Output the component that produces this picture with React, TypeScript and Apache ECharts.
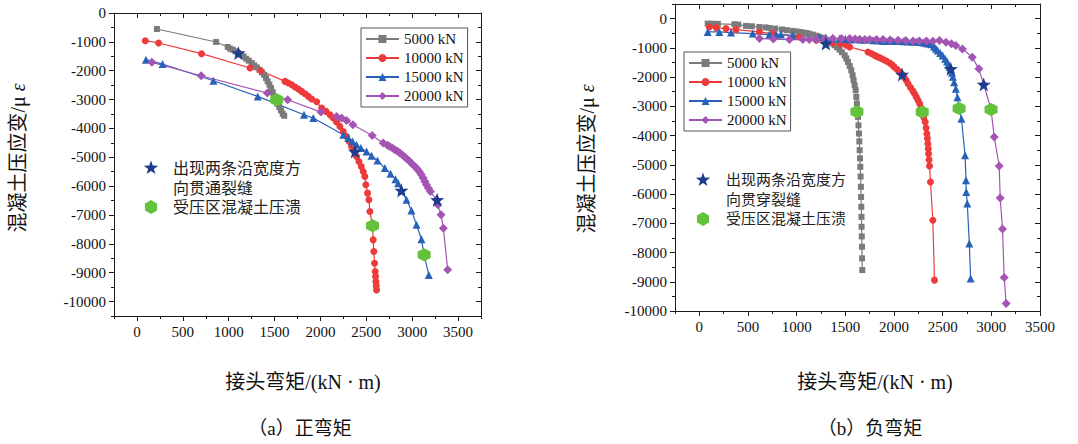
import React, { useEffect, useRef } from 'react';
import * as echarts from 'echarts';

// ---------- tick values ----------
const X_MAJOR = [0, 500, 1000, 1500, 2000, 2500, 3000, 3500];
const Y_MAJOR = [0, -1000, -2000, -3000, -4000, -5000, -6000, -7000, -8000, -9000, -10000];
const LOADS = ['5000 kN', '10000 kN', '15000 kN', '20000 kN'];

// ---------- (a) positive moment ----------
const a5000 = [[218,-555],[863,-1006],[990,-1179],[1016,-1237],[1045,-1272],[1074,-1329],[1103,-1387],[1132,-1445],[1161,-1503],[1190,-1584],[1219,-1653],[1251,-1734],[1277,-1815],[1306,-1884],[1335,-1965],[1364,-2058],[1386,-2139],[1407,-2254],[1425,-2370],[1444,-2485],[1462,-2601],[1480,-2751],[1494,-2890],[1512,-3029],[1531,-3144],[1552,-3260],[1570,-3376],[1589,-3491],[1605,-3560]];
const a10000 = [[91,-959],[236,-1040],[704,-1410],[1233,-1907],[1349,-2000],[1614,-2370],[1650,-2428],[1687,-2485],[1723,-2566],[1759,-2636],[1795,-2717],[1832,-2798],[1868,-2890],[1904,-2982],[1959,-3075],[2013,-3295],[2060,-3410],[2104,-3526],[2140,-3641],[2176,-3780],[2212,-3930],[2249,-4104],[2285,-4277],[2314,-4451],[2339,-4624],[2368,-4797],[2394,-4971],[2419,-5144],[2445,-5318],[2466,-5491],[2484,-5664],[2495,-5953],[2513,-6242],[2528,-6474],[2539,-6878],[2568,-7375],[2575,-7861],[2582,-8265],[2590,-8670],[2597,-8959],[2601,-9132],[2604,-9306],[2608,-9456],[2612,-9595]];
const a15000 = [[98,-1618],[279,-1769],[834,-2347],[1317,-2890],[1821,-3526],[1922,-3641],[2249,-4219],[2303,-4335],[2350,-4451],[2394,-4566],[2441,-4682],[2503,-4797],[2557,-4948],[2622,-5110],[2702,-5375],[2764,-5572],[2818,-5757],[2847,-5896],[2883,-6150],[2938,-6474],[2992,-6844],[3047,-7341],[3101,-7838],[3130,-8381],[3181,-9075]];
const a20000 = [[163,-1711],[700,-2173],[1422,-2774],[1643,-3006],[2006,-3433],[2176,-3584],[2231,-3641],[2285,-3722],[2354,-3873],[2564,-4243],[2684,-4509],[2730,-4580],[2756,-4624],[2785,-4680],[2811,-4740],[2840,-4795],[2865,-4855],[2893,-4920],[2920,-4994],[2947,-5065],[2974,-5144],[3000,-5230],[3029,-5318],[3053,-5400],[3076,-5491],[3098,-5600],[3119,-5722],[3138,-5840],[3155,-5953],[3178,-6070],[3199,-6185],[3265,-6474],[3279,-6647],[3315,-6994],[3340,-7456],[3387,-8901]];
const aStars = [[1106,-1387],[2376,-4797],[2883,-6150],[3272,-6474]];
const aCrush = [[1523,-3006],[2568,-7375],[3130,-8381]];

// ---------- (b) negative moment ----------
const b5000 = [[86,-171],[137,-175],[190,-180],[360,-194],[400,-205],[480,-250],[540,-262],[617,-285],[680,-300],[720,-319],[780,-340],[850,-370],[900,-395],[960,-421],[1000,-440],[1029,-456],[1060,-470],[1098,-490],[1130,-515],[1166,-547],[1200,-585],[1235,-626],[1260,-665],[1287,-706],[1310,-750],[1338,-797],[1365,-850],[1390,-911],[1415,-980],[1441,-1059],[1465,-1150],[1493,-1253],[1510,-1360],[1527,-1481],[1545,-1620],[1561,-1765],[1575,-1940],[1585,-2107],[1596,-2280],[1606,-2449],[1613,-2680],[1619,-2904],[1625,-3130],[1630,-3360],[1635,-3650],[1640,-3930],[1644,-4200],[1647,-4499],[1651,-4780],[1654,-5069],[1657,-5400],[1660,-5752],[1662,-6100],[1664,-6435],[1666,-6780],[1667,-7119],[1669,-7450],[1671,-7802],[1672,-8200],[1674,-8600]];
const b10000 = [[103,-285],[172,-308],[274,-342],[377,-376],[617,-456],[755,-513],[1029,-626],[1201,-740],[1300,-790],[1372,-831],[1450,-870],[1510,-911],[1544,-968],[1733,-1139],[1767,-1196],[1800,-1250],[1818,-1287],[1845,-1325],[1870,-1367],[1895,-1405],[1921,-1447],[1956,-1515],[1980,-1580],[2000,-1650],[2030,-1730],[2058,-1820],[2084,-1912],[2105,-2010],[2125,-2110],[2145,-2230],[2170,-2360],[2195,-2480],[2213,-2580],[2230,-2686],[2248,-2800],[2264,-2913],[2278,-3050],[2290,-3198],[2305,-3370],[2321,-3539],[2330,-3740],[2338,-3937],[2343,-4100],[2348,-4279],[2352,-4450],[2355,-4620],[2360,-4830],[2365,-5041],[2375,-5588],[2399,-6896],[2416,-8945]];
const b15000 = [[86,-456],[206,-456],[326,-478],[549,-513],[720,-547],[789,-547],[840,-547],[960,-570],[1235,-626],[1300,-650],[1370,-670],[1441,-683],[1500,-700],[1560,-710],[1647,-718],[1700,-725],[1784,-740],[1840,-750],[1887,-763],[1940,-763],[1990,-763],[2040,-768],[2093,-774],[2140,-780],[2196,-790],[2230,-795],[2264,-800],[2300,-820],[2333,-840],[2360,-855],[2382,-880],[2410,-950],[2430,-1020],[2449,-1092],[2475,-1180],[2500,-1263],[2525,-1370],[2545,-1470],[2560,-1570],[2572,-1650],[2584,-1718],[2595,-1850],[2605,-1990],[2618,-2174],[2635,-2401],[2652,-2686],[2669,-3075],[2693,-3425],[2730,-4677],[2740,-5531],[2742,-5929],[2753,-6327],[2774,-7693],[2787,-8888]];
const b20000 = [[617,-683],[760,-700],[926,-718],[1063,-718],[1130,-712],[1201,-706],[1290,-695],[1372,-683],[1460,-683],[1544,-683],[1600,-695],[1647,-706],[1700,-712],[1750,-718],[1820,-718],[1887,-718],[1960,-728],[2041,-740],[2120,-750],[2196,-763],[2260,-763],[2333,-763],[2400,-770],[2466,-751],[2534,-808],[2590,-860],[2635,-922],[2703,-1036],[2804,-1320],[2872,-1718],[2922,-2253],[2997,-3107],[3030,-4051],[3081,-5041],[3091,-6134],[3115,-7192],[3132,-8854],[3152,-9741]];
const bStars = [[1300,-854],[2084,-1912],[2584,-1718],[2922,-2253]];
const bCrush = [[1619,-3189],[2290,-3198],[2669,-3075],[2997,-3107]];

// ---------- style ----------
const SERIF = 'Liberation Serif, serif';
const CJK = 'Liberation Serif, Noto Sans CJK SC, serif';
const C_GRAY = '#7b7b7b';
const C_RED = '#ee3a3a';
const C_BLUE = '#2862b8';
const C_PURPLE = '#a455b4';
const C_STAR = '#1d3b8f';
const C_GREEN = '#63c23c';
const AX = '#1a1a1a';

const STAR_PATH = 'path://M0,-10L2.35,-3.24L9.51,-3.09L3.8,1.24L5.88,8.09L0,4L-5.88,8.09L-3.8,1.24L-9.51,-3.09L-2.35,-3.24Z';
const HEX_PATH = 'path://M8.66,0L17.32,5L17.32,15L8.66,20L0,15L0,5Z';

function axisSet(dim: 'x' | 'y', gridIndex: number, min: number, max: number, step: number, majors: number[]) {
  const common: any = {
    type: 'value', gridIndex, min, max, interval: step,
    splitLine: { show: false },
    axisLine: { show: true, onZero: false, lineStyle: { color: AX, width: 1 } },
    axisLabel: { show: false },
    axisTick: { show: false },
  };
  const p1 = dim === 'x' ? 'bottom' : 'left';
  const p2 = dim === 'x' ? 'top' : 'right';
  return [
    {
      ...common, position: p1,
      axisTick: { show: true, inside: false, length: 3, lineStyle: { color: AX } },
      axisLabel: {
        show: true, margin: 8, color: '#111', fontFamily: SERIF, fontSize: 15,
        formatter: (v: number) => (majors.indexOf(v) >= 0 ? String(v) : ''),
      },
    },
    { ...common, position: p1, axisLine: { show: false, onZero: false }, axisTick: { show: true, inside: false, length: 5, customValues: majors, lineStyle: { color: AX } } },
    { ...common, position: p2, axisTick: { show: true, inside: true, length: 3, lineStyle: { color: AX } } },
    { ...common, position: p2, axisLine: { show: false, onZero: false }, axisTick: { show: true, inside: true, length: 5, customValues: majors, lineStyle: { color: AX } } },
  ];
}

function lineS(name: string, data: number[][], color: string, symbol: string, size: number, g: number) {
  return {
    type: 'line', name, data, xAxisIndex: g * 4, yAxisIndex: g * 4,
    symbol, symbolSize: size, showSymbol: true,
    lineStyle: { color, width: 1.2 },
    itemStyle: { color },
    z: 2,
  };
}

function scatterS(name: string, data: number[][], color: string, symbol: string, size: number, g: number) {
  return {
    type: 'scatter', name, data, xAxisIndex: g * 4, yAxisIndex: g * 4,
    symbol, symbolSize: size, itemStyle: { color, opacity: 1 }, z: 5,
  };
}

function starPts(cx: number, cy: number, r: number) {
  const pts: number[][] = [];
  for (let i = 0; i < 10; i++) {
    const rr = i % 2 === 0 ? r : r * 0.4;
    const ang = -Math.PI / 2 + (i * Math.PI) / 5;
    pts.push([cx + rr * Math.cos(ang), cy + rr * Math.sin(ang)]);
  }
  return pts;
}
function hexPts(cx: number, cy: number, r: number) {
  const pts: number[][] = [];
  for (let i = 0; i < 6; i++) {
    const ang = -Math.PI / 2 + (i * Math.PI) / 3;
    pts.push([cx + r * Math.cos(ang), cy + r * Math.sin(ang)]);
  }
  return pts;
}

function legendBox(left: number, top: number) {
  return {
    data: LOADS, left, top, orient: 'vertical',
    itemWidth: 33, itemHeight: 10, itemGap: 3,
    padding: [3, 4, 3, 4],
    borderColor: '#555', borderWidth: 1, backgroundColor: '#fff',
    textStyle: { fontFamily: SERIF, fontSize: 15, color: '#111', lineHeight: 16 },
    selectedMode: false,
  };
}

function keyGroup(sx: number, sy: number, hy: number, tx: number, fs: number, crackText: string) {
  return [
    { type: 'polygon', shape: { points: starPts(sx, sy, 7.5) }, style: { fill: C_STAR }, z: 10 },
    { type: 'polygon', shape: { points: hexPts(sx, hy, 7) }, style: { fill: C_GREEN }, z: 10 },
    { type: 'text', x: tx, y: sy - 10, style: { text: crackText, fontFamily: CJK, fontSize: fs, lineHeight: 20, fill: '#222', align: 'left', verticalAlign: 'top' }, z: 10 },
    { type: 'text', x: tx, y: hy, style: { text: '受压区混凝土压溃', fontFamily: CJK, fontSize: fs, fill: '#222', align: 'left', verticalAlign: 'middle' }, z: 10 },
  ];
}

function yName(x: number, y: number) {
  return {
    type: 'text', x, y, rotation: Math.PI / 2,
    style: {
      text: '{a|混凝土压应变/μ }{b|ε}',
      align: 'center', verticalAlign: 'middle',
      rich: {
        a: { fontFamily: CJK, fontSize: 20, fill: '#111' },
        b: { fontFamily: SERIF, fontSize: 20, fontStyle: 'italic', fill: '#111' },
      },
    },
  };
}

function plainText(x: number, y: number, text: string, fs: number) {
  return {
    type: 'text', x, y,
    style: { text, fontFamily: CJK, fontSize: fs, fill: '#111', align: 'center', verticalAlign: 'middle' },
  };
}

export default function App() {
  const ref = useRef<HTMLDivElement>(null);
  useEffect(() => {
    if (!ref.current) return;
    const chart = echarts.init(ref.current, undefined, { renderer: 'svg' });
    const option: any = {
      animation: false,
      backgroundColor: '#fff',
      grid: [
        { left: 114, top: 13, width: 367, height: 303, outerBoundsMode: 'none', containLabel: false },
        { left: 675, top: 4, width: 365, height: 307, outerBoundsMode: 'none', containLabel: false },
      ],
      xAxis: [
        ...axisSet('x', 0, -250, 3750, 250, X_MAJOR),
        ...axisSet('x', 1, -250, 3500, 250, X_MAJOR),
      ],
      yAxis: [
        ...axisSet('y', 0, -10500, 0, 500, Y_MAJOR),
        ...axisSet('y', 1, -10000, 500, 500, Y_MAJOR),
      ],
      legend: [legendBox(361, 28), legendBox(684, 52)],
      series: [
        lineS(LOADS[0], a5000, C_GRAY, 'rect', 6, 0),
        lineS(LOADS[1], a10000, C_RED, 'circle', 7, 0),
        lineS(LOADS[2], a15000, C_BLUE, 'triangle', 8, 0),
        lineS(LOADS[3], a20000, C_PURPLE, 'diamond', 9, 0),
        scatterS('出现两条沿宽度方向贯通裂缝', aStars, C_STAR, STAR_PATH, 14, 0),
        scatterS('受压区混凝土压溃', aCrush, C_GREEN, HEX_PATH, 13, 0),
        lineS(LOADS[0], b5000, C_GRAY, 'rect', 6, 1),
        lineS(LOADS[1], b10000, C_RED, 'circle', 7, 1),
        lineS(LOADS[2], b15000, C_BLUE, 'triangle', 8, 1),
        lineS(LOADS[3], b20000, C_PURPLE, 'diamond', 9, 1),
        scatterS('出现两条沿宽度方向贯穿裂缝', bStars, C_STAR, STAR_PATH, 14, 1),
        scatterS('受压区混凝土压溃', bCrush, C_GREEN, HEX_PATH, 13, 1),
      ],
      graphic: [
        ...keyGroup(151, 168, 207, 173, 16, '出现两条沿宽度方\n向贯通裂缝'),
        ...keyGroup(703, 180, 219, 726, 15, '出现两条沿宽度方\n向贯穿裂缝'),
        yName(18, 158),
        yName(587, 159),
        plainText(303, 382, '接头弯矩/(kN · m)', 20),
        plainText(875, 382, '接头弯矩/(kN · m)', 20),
        plainText(300, 428, '（a）正弯矩', 19),
        plainText(870, 428, '（b）负弯矩', 19),
      ],
    };
    chart.setOption(option);
    return () => chart.dispose();
  }, []);
  return <div ref={ref} style={{ position: 'fixed', left: 0, top: 0, width: 1078, height: 444, background: '#fff' }} />;
}
